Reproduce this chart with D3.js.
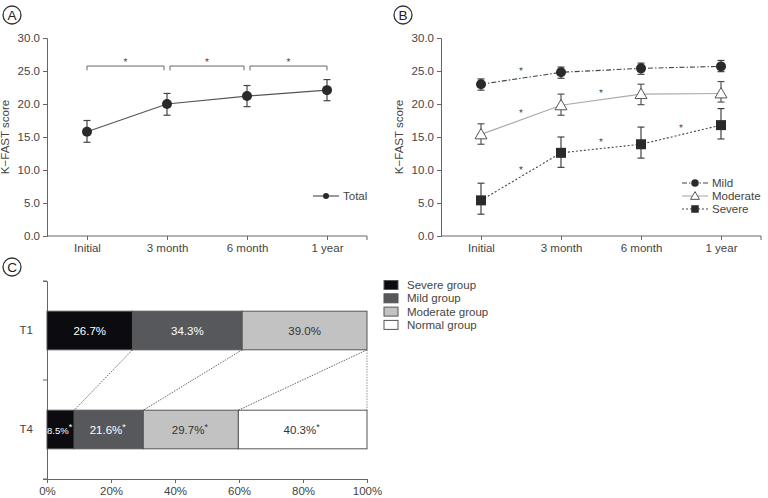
<!DOCTYPE html>
<html>
<head>
<meta charset="utf-8">
<script src="https://cdn.jsdelivr.net/npm/d3@7"></script>
<style>
  body { margin: 0; background: #fff; }
  svg { font-family: "Liberation Sans", Arial, sans-serif; }
  .axis path, .axis line { stroke: #666; }
  .axis text { fill: #444; font-size: 11.5px; }
</style>
</head>
<body>
<div id="chart"></div>
<script>
// ---- data ----
const timePoints = ["Initial", "3 month", "6 month", "1 year"]

// panel A: total
const totalMean = [15.8, 20.0, 21.2, 22.1]
const totalLow = [14.2, 18.3, 19.6, 20.5]
const totalHigh = [17.5, 21.6, 22.8, 23.7]

// panel B: by group
const groupNames = ["Mild", "Moderate", "Severe"]
const mildMean = [23.0, 24.8, 25.4, 25.7]
const mildLow = [22.1, 23.9, 24.5, 24.9]
const mildHigh = [23.8, 25.6, 26.2, 26.6]
const moderateMean = [15.4, 19.8, 21.5, 21.6]
const moderateLow = [13.9, 18.3, 19.9, 20.3]
const moderateHigh = [17.0, 21.5, 23.0, 23.4]
const severeMean = [5.4, 12.6, 13.9, 16.8]
const severeLow = [3.3, 10.4, 11.8, 14.7]
const severeHigh = [8.0, 15.0, 16.5, 19.3]
// intervals (start index) with a significant change
const mildSig = [0]
const moderateSig = [0, 1]
const severeSig = [0, 1, 2]

// panel C: stacked proportions
const stages = ["T1", "T4"]
const severityGroups = ["Severe group", "Mild group", "Moderate group", "Normal group"]
const t1Pct = [26.7, 34.3, 39.0, 0]
const t4Pct = [8.5, 21.6, 29.7, 40.3]
const t1Labels = ["26.7%", "34.3%", "39.0%", ""]
const t4Labels = ["8.5%", "21.6%", "29.7%", "40.3%"]
const t4Star = [true, true, true, true]

const yTicks = [0, 5, 10, 15, 20, 25, 30]
const pctTicks = [0, 20, 40, 60, 80, 100]

// ---- setup ----
const width = 768, height = 498
const svg = d3.select("#chart").append("svg")
  .attr("width", width)
  .attr("height", height)

function circledLabel(x, y, txt) {
  svg.append("circle").attr("cx", x).attr("cy", y).attr("r", 9)
    .attr("fill", "none").attr("stroke", "#333").attr("stroke-width", 1.3)
  svg.append("text").attr("x", x).attr("y", y + 5)
    .attr("text-anchor", "middle").attr("font-size", 13.5).attr("fill", "#222")
    .text(txt)
}

// builds a line-chart panel and returns its scales
function linePanel(left) {
  const g = svg.append("g")
  const x = d3.scalePoint().domain(timePoints).range([left, left + 320]).padding(0.5)
  const y = d3.scaleLinear().domain([0, 30]).range([236, 38])

  g.append("g").attr("class", "axis")
    .attr("transform", `translate(${left},0)`)
    .call(d3.axisLeft(y).tickValues(yTicks).tickFormat(d3.format(".1f")).tickSize(4).tickPadding(3))

  const xa = g.append("g").attr("class", "axis")
    .attr("transform", "translate(0,236)")
    .call(d3.axisBottom(x).tickSize(4).tickPadding(4))
  xa.select(".domain").attr("d", `M${left},0H${left + 320}V4`)

  g.append("text")
    .attr("transform", `translate(${left - 38},137) rotate(-90)`)
    .attr("text-anchor", "middle").attr("font-size", 11.5).attr("fill", "#444")
    .text("K\u2212FAST score")
  return { g, x, y }
}

function errorBars(g, x, y, lo, hi, color) {
  timePoints.forEach((t, i) => {
    const cx = x(t)
    g.append("line").attr("x1", cx).attr("x2", cx).attr("y1", y(lo[i])).attr("y2", y(hi[i]))
      .attr("stroke", color).attr("stroke-width", 1.2)
    ;[lo[i], hi[i]].forEach(v => {
      g.append("line").attr("x1", cx - 3.5).attr("x2", cx + 3.5).attr("y1", y(v)).attr("y2", y(v))
        .attr("stroke", color).attr("stroke-width", 1.2)
    })
  })
}

function star(g, x, y) {
  g.append("text").attr("x", x).attr("y", y)
    .attr("text-anchor", "middle").attr("font-size", 10).attr("fill", "#444")
    .style("text-rendering", "geometricPrecision")
    .text("*")
}

// ---- Panel A ----
circledLabel(12, 15, "A")
const A = linePanel(47)
errorBars(A.g, A.x, A.y, totalLow, totalHigh, "#444")
A.g.append("path")
  .datum(totalMean)
  .attr("d", d3.line().x((d, i) => A.x(timePoints[i])).y(d => A.y(d)))
  .attr("fill", "none").attr("stroke", "#555").attr("stroke-width", 1.2)
A.g.selectAll(".dotA").data(totalMean).enter().append("circle")
  .attr("cx", (d, i) => A.x(timePoints[i])).attr("cy", d => A.y(d))
  .attr("r", 5).attr("fill", "#2a2a2a")

// significance brackets
for (let i = 0; i < 3; i++) {
  const x1 = A.x(timePoints[i]) + (i === 0 ? 0 : 3)
  const x2 = A.x(timePoints[i + 1]) - (i === 2 ? 0 : 3)
  const yt = A.y(25.75), yb = A.y(25.1)
  A.g.append("path").attr("d", `M${x1},${yb}V${yt}H${x2}V${yb}`)
    .attr("fill", "none").attr("stroke", "#666").attr("stroke-width", 1)
  star(A.g, (x1 + x2) / 2, yt - 1)
}

// legend A
A.g.append("line").attr("x1", 313).attr("x2", 339).attr("y1", 196).attr("y2", 196)
  .attr("stroke", "#555").attr("stroke-width", 1.2)
A.g.append("circle").attr("cx", 326).attr("cy", 196).attr("r", 3).attr("fill", "#2a2a2a")
A.g.append("text").attr("x", 343).attr("y", 200).attr("font-size", 11.5).attr("fill", "#444").text("Total")

// ---- Panel B ----
circledLabel(403, 15, "B")
const B = linePanel(441)

const series = [
  { name: "Mild", mean: mildMean, lo: mildLow, hi: mildHigh, sig: mildSig, dash: "5,2,1.5,2", stroke: "#444", marker: "circle" },
  { name: "Moderate", mean: moderateMean, lo: moderateLow, hi: moderateHigh, sig: moderateSig, dash: null, stroke: "#aaa", marker: "triangle" },
  { name: "Severe", mean: severeMean, lo: severeLow, hi: severeHigh, sig: severeSig, dash: "2,2", stroke: "#444", marker: "square" }
]

function drawMarker(g, type, cx, cy, s) {
  if (type === "circle") {
    g.append("circle").attr("cx", cx).attr("cy", cy).attr("r", 5 * s).attr("fill", "#2a2a2a")
  } else if (type === "triangle") {
    g.append("path")
      .attr("d", d3.symbol().type(d3.symbolTriangle).size(62 * s * s))
      .attr("transform", `translate(${cx},${cy + 1 * s})`)
      .attr("fill", "#fff").attr("stroke", "#555").attr("stroke-width", 1)
  } else {
    g.append("rect").attr("x", cx - 5 * s).attr("y", cy - 5 * s)
      .attr("width", 10 * s).attr("height", 10 * s).attr("fill", "#2a2a2a")
  }
}

series.forEach(s => {
  errorBars(B.g, B.x, B.y, s.lo, s.hi, s.marker === "triangle" ? "#555" : "#444")
  B.g.append("path").datum(s.mean)
    .attr("d", d3.line().x((d, i) => B.x(timePoints[i])).y(d => B.y(d)))
    .attr("fill", "none").attr("stroke", s.stroke).attr("stroke-width", 1.1)
    .attr("stroke-dasharray", s.dash)
  s.mean.forEach((v, i) => drawMarker(B.g, s.marker, B.x(timePoints[i]), B.y(v), 1))
  s.sig.forEach(i => {
    const mx = (B.x(timePoints[i]) + B.x(timePoints[i + 1])) / 2
    const my = B.y((s.mean[i] + s.mean[i + 1]) / 2) - 4
    star(B.g, mx, my)
  })
})

// legend B
series.forEach((s, k) => {
  const ly = 183 + k * 13
  B.g.append("line").attr("x1", 682).attr("x2", 708).attr("y1", ly).attr("y2", ly)
    .attr("stroke", s.stroke).attr("stroke-width", 1.1).attr("stroke-dasharray", s.dash)
  drawMarker(B.g, s.marker, 695, ly, 0.75)
  B.g.append("text").attr("x", 712).attr("y", ly + 4).attr("font-size", 11.5).attr("fill", "#444").text(s.name)
})

// ---- Panel C ----
circledLabel(12, 267, "C")
const gC = svg.append("g")
const xC = d3.scaleLinear().domain([0, 100]).range([47, 367])
const yC = d3.scaleBand().domain(stages).range([281, 479])
const barH = yC.bandwidth() * 0.39
const fills = ["#0b0b10", "#57585c", "#c2c2c2", "#ffffff"]
const textFill = ["#fff", "#fff", "#333", "#333"]

gC.append("g").attr("class", "axis")
  .attr("transform", "translate(0,479)")
  .call(d3.axisBottom(xC).tickValues(pctTicks).tickFormat(d => d + "%").tickSize(4).tickSizeOuter(4).tickPadding(4))

const ya = gC.append("g").attr("class", "axis")
  .attr("transform", "translate(47,0)")
  .call(d3.axisLeft(yC).tickSize(0).tickPadding(14).tickSizeOuter(4))
// tick marks at band edges
;[281, 281 + yC.step(), 479].forEach(v => {
  ya.append("line").attr("x1", -4).attr("x2", 0).attr("y1", v).attr("y2", v).attr("stroke", "#666")
})

const pctRows = [t1Pct, t4Pct]
const labRows = [t1Labels, t4Labels]
const cums = pctRows.map(row => {
  let c = 0
  return row.map(v => { const s = c; c += v; return [s, Math.min(c, 100)] })
})

// connector lines between matching boundaries
const t1Top = yC("T1") + (yC.bandwidth() - barH) / 2
const t4Top = yC("T4") + (yC.bandwidth() - barH) / 2
for (let k = 0; k < 3; k++) {
  gC.append("line")
    .attr("x1", xC(cums[0][k][1])).attr("y1", t1Top + barH)
    .attr("x2", xC(cums[1][k][1])).attr("y2", t4Top)
    .attr("stroke", "#555").attr("stroke-width", 0.9).attr("stroke-dasharray", "1.5,1.2")
}
gC.append("line")
  .attr("x1", xC(100)).attr("y1", t1Top + barH).attr("x2", xC(100)).attr("y2", t4Top)
  .attr("stroke", "#888").attr("stroke-width", 0.9).attr("stroke-dasharray", "1.5,1.2")

stages.forEach((st, r) => {
  const top = yC(st) + (yC.bandwidth() - barH) / 2
  pctRows[r].forEach((v, k) => {
    if (v <= 0) return
    const [a, b] = cums[r][k]
    gC.append("rect").attr("x", xC(a)).attr("y", top)
      .attr("width", xC(b) - xC(a)).attr("height", barH)
      .attr("fill", fills[k]).attr("stroke", "#555").attr("stroke-width", 1)
    const small = v < 10
    const t = gC.append("text")
      .attr("x", (xC(a) + xC(b)) / 2 - (r === 1 ? 1 : 0)).attr("y", top + barH / 2 + 4)
      .attr("text-anchor", "middle").attr("font-size", small ? 9.5 : 11.5).attr("fill", textFill[k])
      .text(labRows[r][k])
    if (r === 1 && t4Star[k]) {
      t.append("tspan").attr("dy", -4).attr("font-size", 9).text("*")
    }
  })
})

// legend C
severityGroups.forEach((name, k) => {
  const ly = 285 + k * 13.3
  gC.append("rect").attr("x", 384).attr("y", ly - 4.5).attr("width", 14).attr("height", 9)
    .attr("fill", fills[k]).attr("stroke", "#555").attr("stroke-width", 1)
  gC.append("text").attr("x", 407).attr("y", ly + 4).attr("font-size", 11.5).attr("fill", "#444").text(name)
})
</script>
</body>
</html>
